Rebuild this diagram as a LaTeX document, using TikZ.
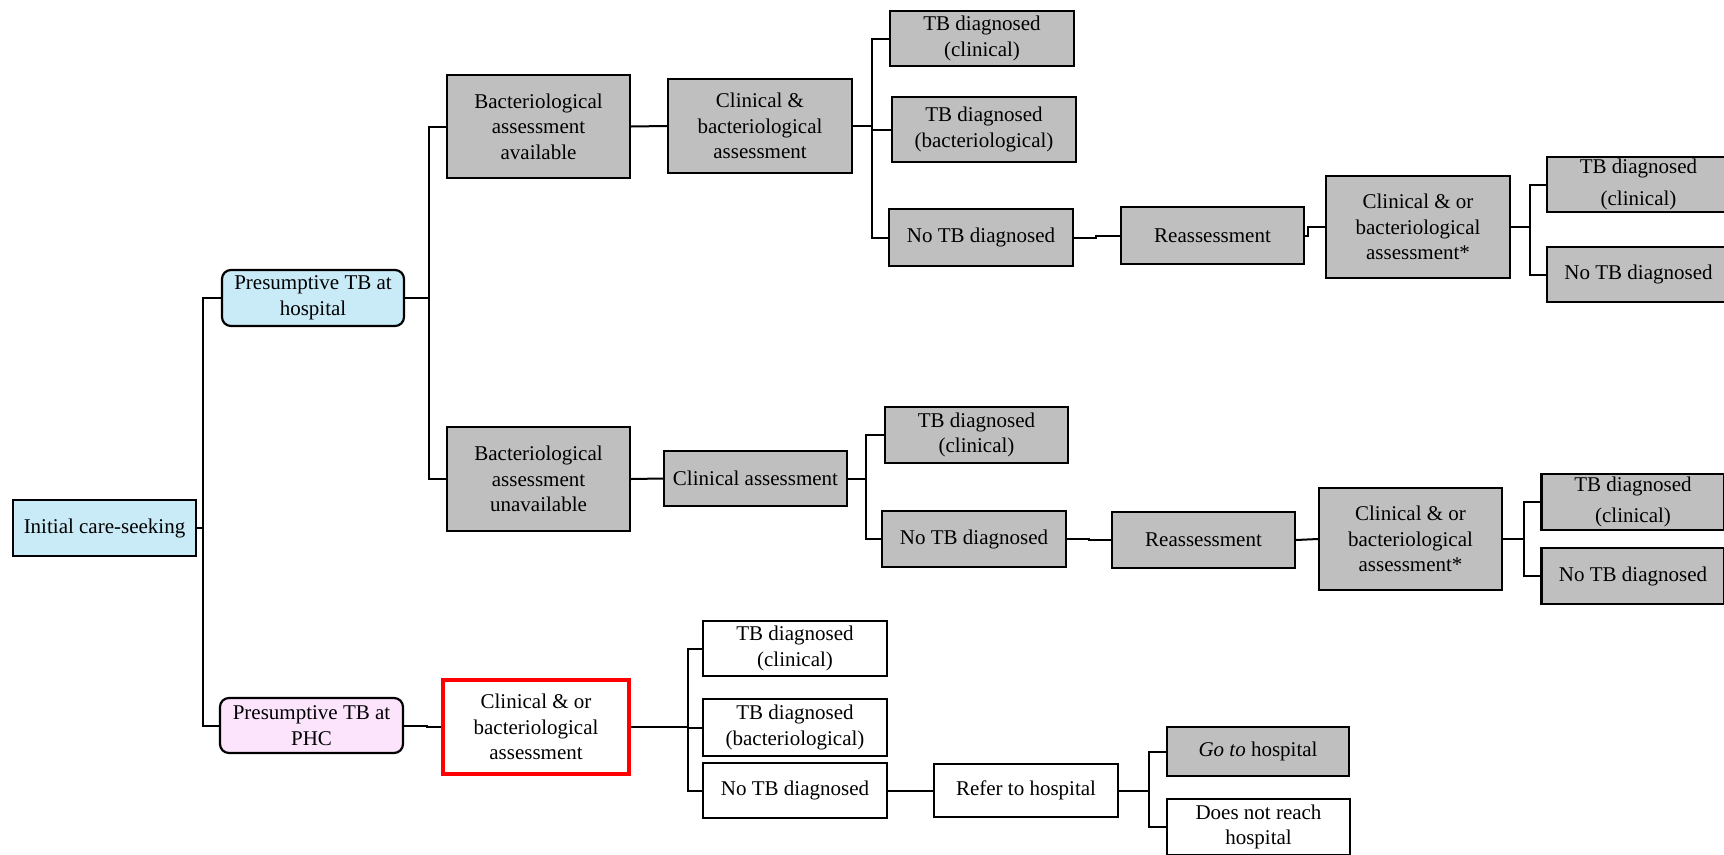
\documentclass[tikz,border=0pt]{standalone}
\usepackage{fontspec}
\setmainfont{Liberation Serif}
\definecolor{lblue}{HTML}{C9EBF8}
\definecolor{lpink}{HTML}{FDE4FD}
\definecolor{gfill}{HTML}{BFBFBF}
\definecolor{rred}{HTML}{FF0000}
\tikzset{
  base/.style={draw=black, line width=2.2pt, align=center, inner sep=0pt,
    font=\fontsize{21}{25.5}\selectfont},
  gbox/.style={base, fill=gfill},
  wbox/.style={base, fill=white},
  bbox/.style={base, fill=lblue},
  rbox/.style={base, fill=lblue, rounded corners=9pt},
  pbox/.style={base, fill=lpink, rounded corners=9pt},
  redbox/.style={base, draw=rred, line width=3.6pt, fill=white},
  conn/.style={draw=black, line width=2pt},
}
\newcommand{\bx}[6]{\node[#1, minimum width=#4pt, minimum height=#5pt] (#2) at (#3) {#6};}
\begin{document}
\begin{tikzpicture}[x=1pt,y=-1pt]
\useasboundingbox (0,0) rectangle (1724,854);
\clip (0,0) rectangle (1724,854);
% level 0-1
\bx{bbox}{init}{104.5,528}{183}{56}{Initial care-seeking}
\bx{rbox}{hosp}{313,298}{182}{56}{Presumptive TB at\\hospital}
\bx{pbox}{phc}{311.5,725.5}{183}{55}{Presumptive TB at\\PHC}
% hospital branch, bacteriological available
\bx{gbox}{bavail}{538.5,126.5}{183}{103}{Bacteriological\\assessment\\available}
\bx{gbox}{cba}{760,126}{184}{94}{Clinical \& \\bacteriological\\assessment}
\bx{gbox}{tdca}{982,38.5}{184}{55}{TB diagnosed\\(clinical)}
\bx{gbox}{tdba}{984,129.5}{184}{65}{TB diagnosed\\(bacteriological)}
\bx{gbox}{ntda}{981,237.5}{184}{57}{No TB diagnosed}
\bx{gbox}{rea}{1212.5,235.5}{183}{57}{Reassessment}
\bx{gbox}{cboa}{1418,227}{184}{102}{Clinical \& or\\bacteriological\\assessment*}
\bx{gbox}{tdcaa}{1638.5,184.5}{183}{55}{TB diagnosed\\[6pt](clinical)}
\bx{gbox}{ntdaa}{1638.5,274.5}{183}{55}{No TB diagnosed}
% hospital branch, bacteriological unavailable
\bx{gbox}{bunav}{538.5,479}{183}{104}{Bacteriological\\assessment\\unavailable}
\bx{gbox}{ca}{755.5,478.5}{183}{55}{Clinical assessment}
\bx{gbox}{tdcb}{976.5,435}{183}{56}{TB diagnosed\\(clinical)}
\bx{gbox}{ntdb}{974,539}{184}{56}{No TB diagnosed}
\bx{gbox}{reb}{1203.5,540}{183}{56}{Reassessment}
\bx{gbox}{cbob}{1410.5,539}{183}{102}{Clinical \& or\\bacteriological\\assessment*}
\bx{gbox}{tdcbb}{1633,502}{183}{56}{TB diagnosed\\[6pt](clinical)}
\bx{gbox}{ntdbb}{1633,576}{183}{56}{No TB diagnosed}
% PHC branch
\bx{redbox}{red}{536,727}{186}{94}{Clinical \& or\\bacteriological\\assessment}
\bx{wbox}{tdcc}{795,648.5}{184}{55}{TB diagnosed\\(clinical)}
\bx{wbox}{tdbc}{795,727.5}{184}{57}{TB diagnosed\\(bacteriological)}
\bx{wbox}{ntdc}{795,790.5}{184}{55}{No TB diagnosed}
\bx{wbox}{refer}{1026,790.5}{184}{53}{Refer to hospital}
\bx{gbox}{goto}{1258,751.5}{182}{49}{\textit{Go to} hospital}
\bx{wbox}{dnr}{1258.5,827}{183}{56}{Does not reach\\hospital}
% connectors
\draw[conn] (init.east) -- ++(6,0) coordinate (j0);
\draw[conn] (j0) |- (hosp.west);
\draw[conn] (j0) |- (phc.west);
\draw[conn] (hosp.east) -- ++(24,0) coordinate (j1);
\draw[conn] (j1) |- (bavail.west);
\draw[conn] (j1) |- (bunav.west);
\draw[conn] (bavail.east) -- (cba.west);
\draw[conn] (cba.east) -- ++(19,0) coordinate (j2);
\draw[conn] (j2) |- (tdca.west);
\draw[conn] (j2) |- (tdba.west);
\draw[conn] (j2) |- (ntda.west);
\draw[conn] (ntda.east) -- ++(22,0) |- (rea.west);
\draw[conn] (rea.east) -- ++(3,0) |- (cboa.west);
\draw[conn] (cboa.east) -- ++(19,0) coordinate (j3);
\draw[conn] (j3) |- (tdcaa.west);
\draw[conn] (j3) |- (ntdaa.west);
\draw[conn] (bunav.east) -- (ca.west);
\draw[conn] (ca.east) -- ++(18,0) coordinate (j4);
\draw[conn] (j4) |- (tdcb.west);
\draw[conn] (j4) |- (ntdb.west);
\draw[conn] (ntdb.east) -- ++(22,0) |- (reb.west);
\draw[conn] (reb.east) -- (cbob.west);
\draw[conn] (cbob.east) -- ++(21,0) coordinate (j5);
\draw[conn] (j5) |- (tdcbb.west);
\draw[conn] (j5) |- (ntdbb.west);
\draw[conn] (phc.east) -- ++(23,0) |- (red.west);
\draw[conn] (red.east) -- ++(57,0) coordinate (j6);
\draw[conn] (j6) |- (tdcc.west);
\draw[conn] (j6) |- (tdbc.west);
\draw[conn] (j6) |- (ntdc.west);
\draw[conn] (ntdc.east) -- (refer.west);
\draw[conn] (refer.east) -- ++(30,0) coordinate (j7);
\draw[conn] (j7) |- (goto.west);
\draw[conn] (j7) |- (dnr.west);
\end{tikzpicture}
\end{document}
